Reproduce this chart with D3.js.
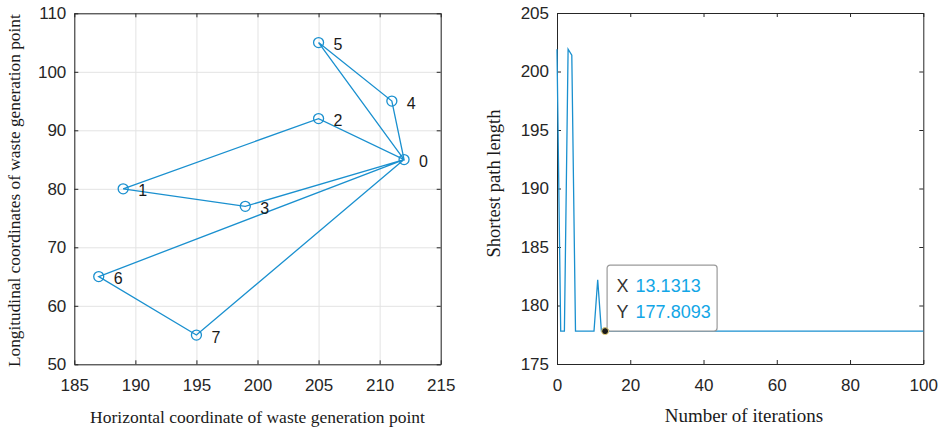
<!DOCTYPE html>
<html>
<head>
<meta charset="utf-8">
<script src="https://cdn.jsdelivr.net/npm/d3@7"></script>
<style>
  body { margin: 0; background: #fff; }
  svg { display: block; }
  .tick text { font-family: 'Liberation Sans', Arial, sans-serif; font-size: 17px; fill: #262626; }
  .axis-title { font-family: 'Liberation Serif', 'Times New Roman', serif; fill: #1a1a1a; }
</style>
</head>
<body>
<div id="chart"></div>
<script>
// waste generation points (node 0 is the depot)
const nodeIds = [0, 1, 2, 3, 4, 5, 6, 7];
const nodeX = [212, 189, 205, 199, 211, 205, 187, 195];
const nodeY = [85, 80, 92, 77, 95, 105, 65, 55];
const route = [0, 5, 4, 0, 2, 1, 3, 0, 6, 7, 0];

const routeTicksX = [185, 190, 195, 200, 205, 210, 215];
const routeTicksY = [50, 60, 70, 80, 90, 100, 110];

// shortest path length per iteration (100 samples over 0..100)
const pathLen = [
  201.9, 177.81, 177.81, 201.9, 201.4, 177.81, 177.81, 177.81, 177.81, 177.81,
  177.81, 182.2, 177.81, 177.81, 177.81, 177.81, 177.81, 177.81, 177.81, 177.81,
  177.81, 177.81, 177.81, 177.81, 177.81, 177.81, 177.81, 177.81, 177.81, 177.81,
  177.81, 177.81, 177.81, 177.81, 177.81, 177.81, 177.81, 177.81, 177.81, 177.81,
  177.81, 177.81, 177.81, 177.81, 177.81, 177.81, 177.81, 177.81, 177.81, 177.81,
  177.81, 177.81, 177.81, 177.81, 177.81, 177.81, 177.81, 177.81, 177.81, 177.81,
  177.81, 177.81, 177.81, 177.81, 177.81, 177.81, 177.81, 177.81, 177.81, 177.81,
  177.81, 177.81, 177.81, 177.81, 177.81, 177.81, 177.81, 177.81, 177.81, 177.81,
  177.81, 177.81, 177.81, 177.81, 177.81, 177.81, 177.81, 177.81, 177.81, 177.81,
  177.81, 177.81, 177.81, 177.81, 177.81, 177.81, 177.81, 177.81, 177.81, 177.81
];
const iterTicksX = [0, 20, 40, 60, 80, 100];
const iterTicksY = [175, 180, 185, 190, 195, 200, 205];

// data tip
const tipIndex = 13;
const tipLabels = ['X', 'Y'];
const tipValues = ['13.1313', '177.8093'];

const width = 941;
const height = 429;
const lineColor = '#1a90cf';
const axisColor = '#262626';

const svg = d3.select('#chart')
  .append('svg')
  .attr('width', width)
  .attr('height', height);

function drawBox(g, x, y, opts) {
  const [x0, x1] = x.range();
  const [y0, y1] = y.range();

  if (opts.grid) {
    g.append('g')
      .attr('transform', `translate(0, ${y0})`)
      .call(d3.axisBottom(x).tickValues(opts.tx).tickSize(-(y0 - y1)).tickFormat(''))
      .call((s) => s.select('.domain').remove())
      .selectAll('line').attr('stroke', '#e3e3e3');
    g.append('g')
      .attr('transform', `translate(${x0}, 0)`)
      .call(d3.axisLeft(y).tickValues(opts.ty).tickSize(-(x1 - x0)).tickFormat(''))
      .call((s) => s.select('.domain').remove())
      .selectAll('line').attr('stroke', '#e3e3e3');
  }

  const axes = [
    [d3.axisBottom(x).tickValues(opts.tx).tickPadding(15), `translate(0, ${y0})`],
    [d3.axisLeft(y).tickValues(opts.ty).tickPadding(8), `translate(${x0}, 0)`],
    [d3.axisTop(x).tickValues(opts.tx).tickFormat(''), `translate(0, ${y1})`],
    [d3.axisRight(y).tickValues(opts.ty).tickFormat(''), `translate(${x1}, 0)`],
  ];
  axes.forEach(([axis, tr]) => {
    g.append('g')
      .attr('transform', tr)
      .call(axis.tickSizeInner(-4).tickSizeOuter(0))
      .call((s) => s.selectAll('.domain, line').attr('stroke', axisColor))
      .call((s) => s.selectAll('text').attr('fill', axisColor));
  });
}

// ---- left: route map ----
const xRoute = d3.scaleLinear().domain([185, 215]).range([74.3, 440.7]);
const yRoute = d3.scaleLinear().domain([50, 110]).range([364.3, 13.3]);
const left = svg.append('g');

drawBox(left, xRoute, yRoute, { tx: routeTicksX, ty: routeTicksY, grid: true });

left.append('path')
  .datum(route)
  .attr('fill', 'none')
  .attr('stroke', lineColor)
  .attr('stroke-width', 1.3)
  .attr('d', d3.line().x((d) => xRoute(nodeX[d])).y((d) => yRoute(nodeY[d])));

left.append('g')
  .selectAll('circle')
  .data(nodeIds)
  .join('circle')
  .attr('cx', (d) => xRoute(nodeX[d]))
  .attr('cy', (d) => yRoute(nodeY[d]))
  .attr('r', 5)
  .attr('fill', 'none')
  .attr('stroke', lineColor)
  .attr('stroke-width', 1.3);

left.append('g')
  .selectAll('text')
  .data(nodeIds)
  .join('text')
  .attr('x', (d) => xRoute(nodeX[d]) + 15)
  .attr('y', (d) => yRoute(nodeY[d]) + 2)
  .attr('dy', '0.35em')
  .attr('font-family', "'Liberation Sans', Arial, sans-serif")
  .attr('font-size', 16)
  .attr('fill', '#1a1a1a')
  .text((d) => d);

left.append('text')
  .attr('class', 'axis-title')
  .attr('font-size', 17.5)
  .attr('x', (74.3 + 440.7) / 2)
  .attr('y', 422.5)
  .attr('text-anchor', 'middle')
  .text('Horizontal coordinate of waste generation point');

left.append('text')
  .attr('class', 'axis-title')
  .attr('font-size', 17.3)
  .attr('transform', `translate(20, ${(13.3 + 368) / 2}) rotate(-90)`)
  .attr('text-anchor', 'middle')
  .text('Longitudinal coordinates of waste generation point');

// ---- right: convergence ----
const xIter = d3.scaleLinear().domain([0, 100]).range([557, 923.3]);
const yIter = d3.scaleLinear().domain([175, 205]).range([364, 13]);
// samples are evenly spaced like linspace(0, 100, n)
const iterAt = (i) => (i * 100) / (pathLen.length - 1);
const right = svg.append('g');

drawBox(right, xIter, yIter, { tx: iterTicksX, ty: iterTicksY, grid: false });

right.append('path')
  .datum(pathLen)
  .attr('fill', 'none')
  .attr('stroke', lineColor)
  .attr('stroke-width', 1.3)
  .attr('d', d3.line().x((d, i) => xIter(iterAt(i))).y((d) => yIter(d)));

const tipX = xIter(iterAt(tipIndex));
const tipY = yIter(pathLen[tipIndex]);

const tip = right.append('g').attr('transform', `translate(${tipX + 2}, ${tipY - 66})`);
tip.append('rect')
  .attr('width', 110)
  .attr('height', 66)
  .attr('rx', 3)
  .attr('fill', 'rgba(255,255,255,0.92)')
  .attr('stroke', '#9a9a9a')
  .attr('stroke-width', 1.2);
tipLabels.forEach((lab, i) => {
  tip.append('text')
    .attr('x', 9.5)
    .attr('y', 27 + i * 26)
    .attr('font-family', "'Liberation Sans', Arial, sans-serif")
    .attr('font-size', 18)
    .attr('fill', '#333')
    .text(lab);
  tip.append('text')
    .attr('x', 28.5)
    .attr('y', 27 + i * 26)
    .attr('font-family', "'Liberation Sans', Arial, sans-serif")
    .attr('font-size', 18)
    .attr('fill', '#12a6e6')
    .text(tipValues[i]);
});

right.append('circle')
  .attr('cx', tipX)
  .attr('cy', tipY)
  .attr('r', 3.5)
  .attr('fill', '#1a1a1a')
  .attr('stroke', '#e8d27a')
  .attr('stroke-width', 1);

right.append('text')
  .attr('class', 'axis-title')
  .attr('font-size', 19)
  .attr('x', 744)
  .attr('y', 421.5)
  .attr('text-anchor', 'middle')
  .text('Number of iterations');

right.append('text')
  .attr('class', 'axis-title')
  .attr('font-size', 18.5)
  .attr('transform', `translate(500, 183.5) rotate(-90)`)
  .attr('text-anchor', 'middle')
  .text('Shortest path length');
</script>
</body>
</html>
